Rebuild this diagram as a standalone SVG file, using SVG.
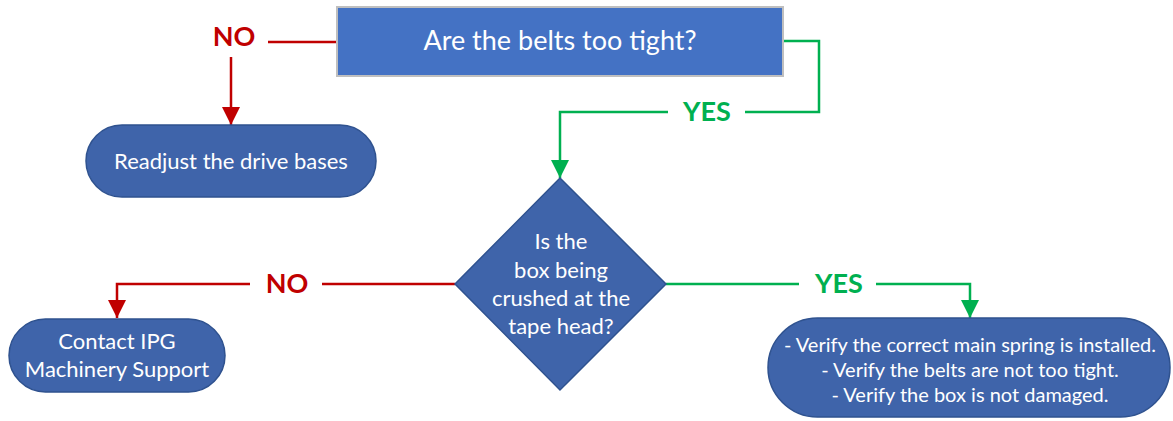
<svg xmlns="http://www.w3.org/2000/svg" width="1173" height="421" viewBox="0 0 1173 421">
<defs>
<style>
.t{font-family:Lato,"Open Sans","Liberation Sans",sans-serif;fill:#ffffff;text-anchor:middle}
.lbl{font-family:Lato,"Open Sans","Liberation Sans",sans-serif;font-weight:bold;font-size:27px;text-anchor:middle}
.node{fill:#3F64AA;stroke:#2F528F;stroke-width:1.5}
.red{stroke:#C00000;stroke-width:2.5;fill:none}
.green{stroke:#00B050;stroke-width:2.5;fill:none}
</style>
<marker id="ar" markerWidth="18" markerHeight="18" viewBox="0 0 18 18" refX="18" refY="9" orient="auto" markerUnits="userSpaceOnUse"><path d="M0,0 L18,9 L0,18 Z" fill="#C00000"/></marker>
<marker id="ag" markerWidth="18" markerHeight="18" viewBox="0 0 18 18" refX="18" refY="9" orient="auto" markerUnits="userSpaceOnUse"><path d="M0,0 L18,9 L0,18 Z" fill="#00B050"/></marker>
</defs>
<rect width="1173" height="421" fill="#ffffff"/>
<g id="connectors">
<path class="red" d="M337,42 H268"/>
<path class="red" d="M231,57 V125" marker-end="url(#ar)"/>
<text class="lbl" x="234" y="46" fill="#C00000">NO</text>
<path class="green" d="M783,41 H819 V112 H745"/>
<path class="green" d="M668,112 H560 V178" marker-end="url(#ag)"/>
<text class="lbl" x="707" y="121" fill="#00B050">YES</text>
<path class="red" d="M455,284 H322"/>
<path class="red" d="M250,284 H117 V318" marker-end="url(#ar)"/>
<text class="lbl" x="287" y="293" fill="#C00000">NO</text>
<path class="green" d="M666,284 H799"/>
<path class="green" d="M876,284 H970 V318" marker-end="url(#ag)"/>
<text class="lbl" x="839" y="293" fill="#00B050">YES</text>
</g>
<g id="q1">
<rect x="337" y="7" width="446" height="69" fill="#4472C4" stroke="#BFBFBF" stroke-width="2"/>
<text class="t" x="560" y="50" font-size="27">Are the belts too tight?</text>
</g>
<g id="readjust">
<rect class="node" x="86" y="125" width="290" height="72" rx="36" ry="36"/>
<text class="t" x="231" y="169" font-size="22">Readjust the drive bases</text>
</g>
<g id="q2">
<path class="node" d="M560,178 L666,284 L560,390 L455,284 Z"/>
<text class="t" x="561" y="249" font-size="22">Is the</text>
<text class="t" x="561" y="278" font-size="22">box being</text>
<text class="t" x="561" y="306" font-size="22">crushed at the</text>
<text class="t" x="561" y="334" font-size="22">tape head?</text>
</g>
<g id="contact">
<rect class="node" x="9" y="319" width="216" height="73" rx="36.5" ry="36.5"/>
<text class="t" x="117" y="349" font-size="22">Contact IPG</text>
<text class="t" x="117" y="377" font-size="22">Machinery Support</text>
</g>
<g id="verify">
<rect class="node" x="768" y="318" width="402" height="99" rx="49.5" ry="49.5"/>
<text class="t" x="970" y="352" font-size="20">- Verify the correct main spring is installed.</text>
<text class="t" x="970" y="377" font-size="20">- Verify the belts are not too tight.</text>
<text class="t" x="970" y="402" font-size="20">- Verify the box is not damaged.</text>
</g>
</svg>
